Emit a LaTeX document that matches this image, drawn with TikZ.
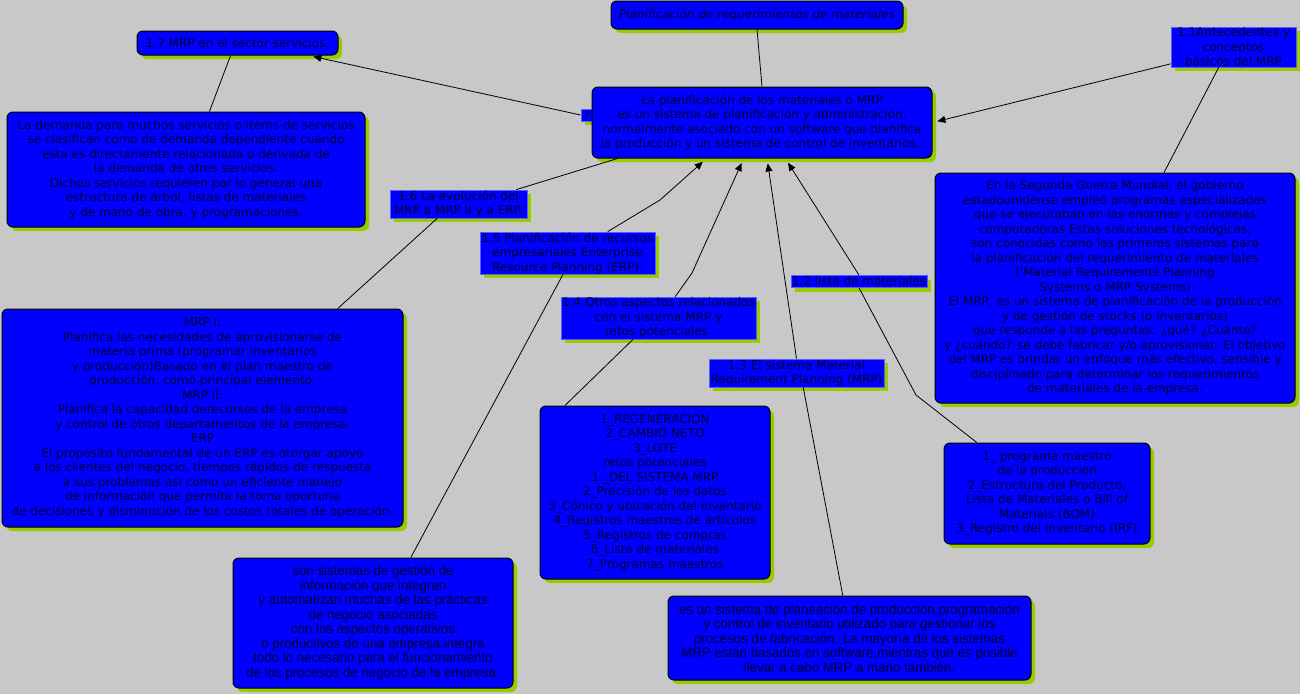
\documentclass[tikz,border=0pt]{standalone}
\usepackage{fontspec}
\usetikzlibrary{shadows,arrows.meta,calc}
\newfontfamily\dv{DejaVu Sans}
\newfontfamily\nar[FakeStretch=0.95]{Liberation Sans}
\definecolor{bg}{RGB}{200,200,200}
\definecolor{cblue}{RGB}{0,0,255}
\definecolor{ctext}{RGB}{0,0,48}
\definecolor{shgreen}{RGB}{153,204,0}
\definecolor{pborder}{RGB}{90,90,255}
\tikzset{
  base/.style={fill=cblue, text=ctext, align=center, inner sep=0pt,
    drop shadow={shadow xshift=4pt,shadow yshift=-4pt,fill=shgreen,opacity=1}},
  concept/.style={base, draw=black, line width=1pt, rounded corners=6pt,
    font=\dv\fontsize{12pt}{14.5pt}\selectfont},
  phrase/.style={base, draw=pborder, line width=0.8pt,
    font=\dv\fontsize{12pt}{14.5pt}\selectfont},
  narrowc/.style={concept, font=\nar\fontsize{14pt}{14.5pt}\selectfont},
  link/.style={draw=black, line width=0.8pt},
  arr/.style={link, -{Triangle[length=8pt,width=7pt]}, shorten >=5pt},
}
\begin{document}
\begin{tikzpicture}[x=1pt,y=-1pt]
\fill[bg] (0,0) rectangle (1300,694);
\useasboundingbox (0,0) rectangle (1300,694);

\node[concept, minimum width=292pt, minimum height=28pt] (title) at (757,15)
  {\itshape Planificación de requerimientos de materiales};
\node[concept, minimum width=201pt, minimum height=24pt] (n17) at (237.5,43)
  {1.7 MRP en el sector servicios.};
\node[phrase, minimum width=12pt, minimum height=12pt, font=\dv\fontsize{9pt}{10pt}\selectfont] (q) at (587,115) {?};
\node[concept, minimum width=340pt, minimum height=71pt] (central) at (762,122.5)
  {La planificación de los materiales o MRP\\
   es un sistema de planificación y administración,\\
   normalmente asociado con un software que planifica\\
   la producción y un sistema de control de inventarios..};
\node[phrase, minimum width=125pt, minimum height=40pt] (n11) at (1233.5,47)
  {1.1Antecedentes y\\ conceptos\\ básicos del MRP};
\node[concept, minimum width=358pt, minimum height=115pt] (demand) at (186,169.5)
  {La dernanda para muchos servicios o items de servicios\\
   se clasifican como de demanda dependiente cuando\\
   esta es directamente relacionada o derivada de\\
   la demanda de otros servicios.\\
   Dichos servicios requieren por lo general una\\
   estructura de árbol, listas de materiales\\
   y de mano de obra, y programaciones.};
\node[phrase, minimum width=137pt, minimum height=28pt] (n16) at (458.5,204)
  {1.6 La evolución del\\ MRP a MRP II y a ERP.};
\node[phrase, minimum width=175pt, minimum height=42pt] (n15) at (567.5,253)
  {1.5 Planificación de recursos\\ empresariales Enterprise\\ Resource Planning (ERP).};
\node[concept, minimum width=360pt, minimum height=230pt] (wwii) at (1115,288)
  {En la Segunda Guerra Mundial, el gobierno\\
   estadounidense empleó programas especializados\\
   que se ejecutaban en las enormes y complejas\\
   computadoras Estas soluciones tecnológicas,\\
   son conocidas como los primeros sistemas para\\
   la planificación del requerimiento de materiales\\
   ('Material Requirements Planning\\
   Systems o MRP Systems)\\
   El MRP, es un sistema de planificación de la producción\\
   y de gestión de stocks (o inventarios)\\
   que responde a las preguntas: ¿qué? ¿Cuánto?\\
   y ¿cuándo? se debe fabricar y/o aprovisionar. El objetivo\\
   del MRP es brindar un enfoque más efectivo, sensible y\\
   disciplinado para determinar los requerimientos\\
   de materiales de la empresa.};
\node[phrase, minimum width=136pt, minimum height=12pt] (n12) at (859,281.5)
  {1.2 lista de materiales};
\node[phrase, minimum width=195pt, minimum height=42pt] (n14) at (658.5,318)
  {1.4 Otros aspectos relacionados\\ con el sistema MRP y\\ retos potenciales.};
\node[phrase, minimum width=175pt, minimum height=28pt] (n13) at (796.5,373)
  {1.3 El sistema Material\\ Requirement Planning (MRP)};
\node[concept, minimum width=401pt, minimum height=218pt] (mrpi) at (202.5,418)
  {MRP I:\\
   Planifica las necesidades de aprovisionarse de\\
   materia prima (programar inventarios\\
   y producción)Basado en el plan maestro de\\
   producción, como principal elemento.\\
   MRP II:\\
   Planifica la capacidad derecursos de la empresa\\
   y control de otros departamentos de la empresa.\\
   ERP\\
   El propósito fundamental de un ERP es otorgar apoyo\\
   a los clientes del negocio, tiempos rápidos de respuesta\\
   a sus problemas así como un eficiente manejo\\
   de información que permita la toma oportuna\\
   de decisiones y disminución de los costos totales de operación.};
\node[concept, minimum width=230pt, minimum height=173pt] (regen) at (655,492.5)
  {1\_REGENERACION\\
   2\_CAMBIO NETO\\
   3\_LOTE\\
   retos potenciales\\
   1.\_DEL SISTEMA MRP\\
   2\_Precisión de los datos\\
   3\_Cónico y ubicación del inventario\\
   4\_Registros maestros de artículos\\
   5\_Registros de compras\\
   6\_Lista de materiales\\
   7\_Programas maestros};
\node[concept, minimum width=206pt, minimum height=101pt] (prog) at (1047,493.5)
  {1\_ programa maestro\\
   de la produccion\\
   2\_Estructura del Producto,\\
   Lista de Materiales o Bill of\\
   Materials (BOM)\\
   3\_Registro del Inventario (IRF)};
\node[narrowc, minimum width=280pt, minimum height=130pt] (erp) at (373,623)
  {son sistemas de gestión de\\
   información que integran\\
   y automatizan muchas de las prácticas\\
   de negocio asociadas\\
   con los aspectos operativos\\
   o productivos de una empresa.integra\\
   todo lo necesario para el funcionamiento\\
   de los procesos de negocio de la empresa.};
\node[narrowc, minimum width=363pt, minimum height=84pt] (mrpdesc) at (849.5,638)
  {es un sistema de planeación de producción,programación\\
   y control de inventario utilizado para gestionar los\\
   procesos de fabricación. La mayoría de los sistemas\\
   MRP están basados en software,mientras que es posible\\
   llevar a cabo MRP a mano también.};

\coordinate (b15) at (660,200);
\coordinate (b14) at (692,273);
\coordinate (b12) at (916,395);

\draw[link] (title.south) -- (central.north);
\draw[arr] (q.west) -- (n17.-10);
\draw[arr] (n11.195) -- (central.east);
\draw[link] (n11.234) -- (wwii.67);
\draw[link] (n17.241) -- (demand.68);
\draw[link] (central.194) -- (n16.14);
\draw[link] (n16.214) -- (mrpi.39);
\draw[arr] (n15.28) -- (b15) -- (central.213);
\draw[arr] (n14.52) -- (b14) -- (central.243);
\draw[arr] (n13.north) -- (central.278);
\draw[arr] (n12.north) -- (central.303);
\draw[link] (n12.south) -- (b12) -- (prog.144);
\draw[link] (n13.295) -- (mrpdesc.99);
\draw[link] (n14.220) -- (regen.136);
\draw[link] (n15.258) -- (erp.60);
\end{tikzpicture}
\end{document}
